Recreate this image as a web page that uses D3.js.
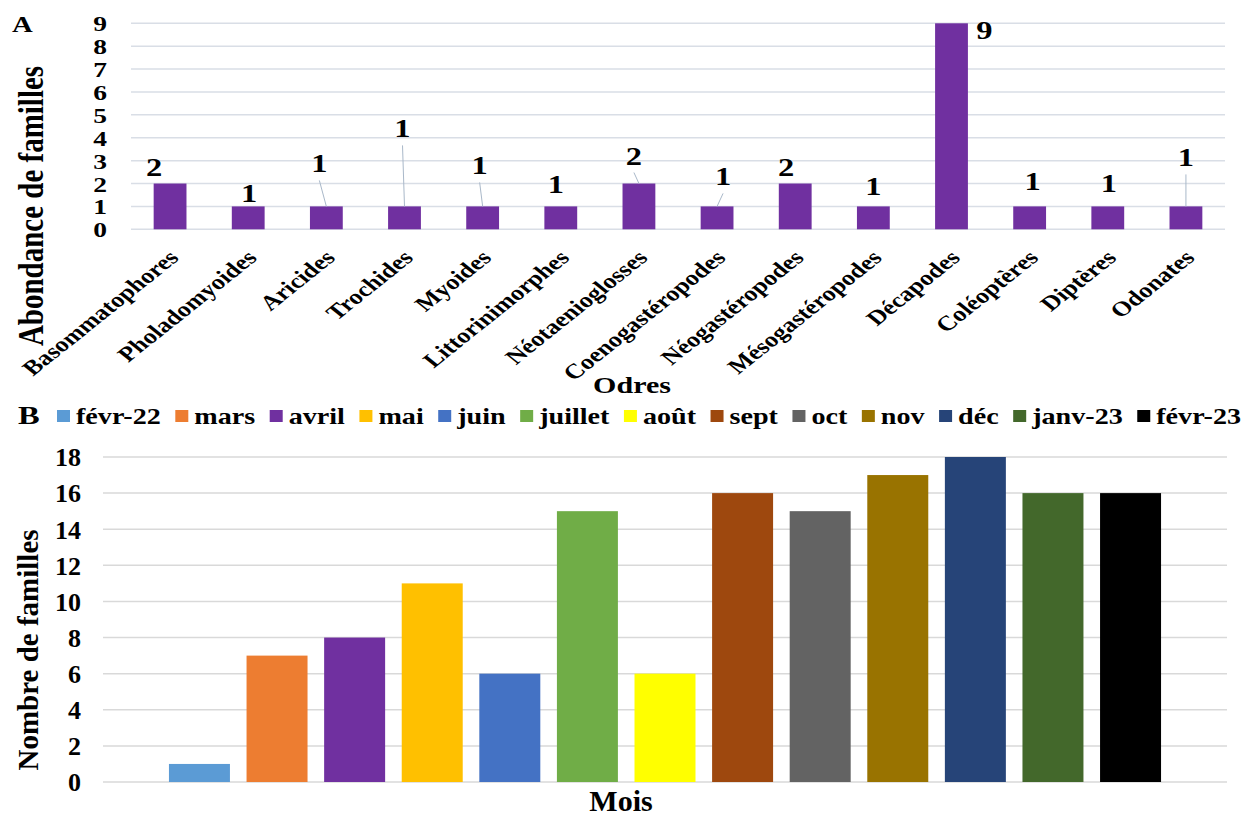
<!DOCTYPE html>
<html><head><meta charset="utf-8">
<script src="https://cdn.jsdelivr.net/npm/d3@7/dist/d3.min.js"></script>
<style>
html,body{margin:0;padding:0;background:#fff;}
svg text{font-family:"Liberation Serif","Times New Roman",serif;font-weight:bold;fill:#000;}
</style></head>
<body>
<svg id="chart" width="1256" height="819"></svg>
<script>
// ---------- DATA ----------
const ordres = ["Basommatophores","Pholadomyoides","Aricides","Trochides","Myoides","Littorinimorphes",
  "Néotaenioglosses","Coenogastéropodes","Néogastéropodes","Mésogastéropodes","Décapodes","Coléoptères","Diptères","Odonates"];
const abondance = [2,1,1,1,1,1,2,1,2,1,9,1,1,1];
const ticksA = [0,1,2,3,4,5,6,7,8,9];

const mois = ["févr-22","mars","avril","mai","juin","juillet","août","sept","oct","nov","déc","janv-23","févr-23"];
const familles = [1,7,8,11,6,15,6,16,15,17,18,16,16];
const couleurs = ["#5B9BD5","#ED7D31","#7030A0","#FFC000","#4472C4","#70AD47","#FFFF00","#9E480E","#636363","#997300","#264478","#43682B","#000000"];
const ticksB = [0,2,4,6,8,10,12,14,16,18];

// ---------- LAYOUT (label placement of panel A, relative to bar top) ----------
const labelLayout = [
  {dx:-16,dy:-8,leader:false},{dx:1,dy:-4,leader:false},{dx:-7,dy:-34,leader:true},{dx:-2,dy:-69,leader:true},
  {dx:-3,dy:-32,leader:true},{dx:-5,dy:-13,leader:false},{dx:-5,dy:-19,leader:true},{dx:6,dy:-21,leader:true},
  {dx:-9,dy:-8,leader:false},{dx:0,dy:-11,leader:false},{dx:33,dy:16,leader:false},{dx:3,dy:-16,leader:false},
  {dx:1,dy:-14,leader:false},{dx:0,dy:-40,leader:true}
];
const SX = 1.25; // horizontal stretch of the upper figure's text

const svg = d3.select("#chart");
function stext(parent, x, y, str, fs, anchor, rot, sx) {
  const s = (sx === undefined) ? SX : sx;
  return parent.append("text")
    .attr("transform", `translate(${x},${y}) scale(${s},1)` + (rot ? ` rotate(${rot})` : ""))
    .attr("text-anchor", anchor || "start").attr("font-size", fs).text(str);
}

// ================= PANEL A =================
const A = {left:131, right:1225, top:23.3, bottom:229.3};
const xA = d3.scaleBand().domain(ordres).range([A.left, A.right]).paddingInner(0.58).paddingOuter(0.29);
const yA = d3.scaleLinear().domain([0,9]).range([A.bottom, A.top]);

const gA = svg.append("g");
gA.selectAll("line.grid").data(ticksA).enter().append("line")
  .attr("x1", A.left).attr("x2", A.right)
  .attr("y1", d=>yA(d)).attr("y2", d=>yA(d))
  .attr("stroke", "#D9DEE6").attr("stroke-width", 1.5);
const axA = d3.axisLeft(yA).tickValues(ticksA).tickSize(0).tickPadding(0).tickFormat(d3.format("d"));
const axAg = gA.append("g").attr("transform", `translate(${107},0)`).call(axA);
axAg.select(".domain").remove();
axAg.selectAll("text").attr("font-size", 22).attr("dy", "0.34em").attr("transform", `scale(${SX},1)`);

gA.selectAll("rect.bar").data(abondance).enter().append("rect")
  .attr("x", (d,i)=>xA(ordres[i])).attr("width", xA.bandwidth())
  .attr("y", d=>yA(d)).attr("height", d=>yA(0)-yA(d))
  .attr("fill", "#7030A0");

abondance.forEach((v,i)=>{
  const cx = xA(ordres[i]) + xA.bandwidth()/2;
  const L = labelLayout[i];
  const lx = cx + L.dx, ly = yA(v) + L.dy;
  if (L.leader) {
    gA.append("line").attr("x1", lx).attr("y1", ly + 8).attr("x2", cx).attr("y2", yA(v))
      .attr("stroke", "#A9B8C9").attr("stroke-width", 1);
  }
  stext(gA, lx, ly, v, 26, "middle");
});

ordres.forEach(d=>{
  stext(gA, xA(d) + xA.bandwidth()/2 + 10, 259, d, 21, "end", -45);
});

stext(svg, 12, 32, "A", 23, "start");
stext(svg, 43, 206, "Abondance de familles", 29, "middle", -90);
stext(svg, 632, 393, "Odres", 24, "middle");

// ================= PANEL B =================
const B = {left:103, right:1227, top:457, bottom:782};
const xB = d3.scaleBand().domain(mois).range([B.left, B.right]).paddingInner(0.214).paddingOuter(0.85);
const yB = d3.scaleLinear().domain([0,18]).range([B.bottom, B.top]);
const gB = svg.append("g");

gB.selectAll("line.grid").data(ticksB).enter().append("line")
  .attr("x1", B.left).attr("x2", B.right)
  .attr("y1", d=>yB(d)).attr("y2", d=>yB(d))
  .attr("stroke", "#D9D9D9").attr("stroke-width", 1.5);

const axB = d3.axisLeft(yB).tickValues(ticksB).tickSize(0).tickPadding(0).tickFormat(d3.format("d"));
const axBg = gB.append("g").attr("transform", `translate(${81},0)`).call(axB);
axBg.select(".domain").remove();
axBg.selectAll("text").attr("font-size", 26).attr("dy", "0.34em");

gB.selectAll("rect.bar").data(familles).enter().append("rect")
  .attr("x", (d,i)=>xB(mois[i])).attr("width", xB.bandwidth())
  .attr("y", d=>yB(d)).attr("height", d=>yB(0)-yB(d))
  .attr("fill", (d,i)=>couleurs[i]);

// legend
stext(svg, 18, 424, "B", 26, "start");
let lxPos = 57;
mois.forEach((m,i)=>{
  svg.append("rect").attr("x", lxPos).attr("y", 410).attr("width", 13).attr("height", 12).attr("fill", couleurs[i]);
  const t = stext(svg, lxPos + 19, 424, m, 22.5, "start");
  const w = t.node().getComputedTextLength() * SX;
  lxPos = lxPos + 19 + w + 14.5;
});

svg.append("text").attr("transform", `translate(38,650) rotate(-90)`).attr("text-anchor", "middle")
  .attr("font-size", 29).text("Nombre de familles");
svg.append("text").attr("x", 621).attr("y", 811).attr("text-anchor", "middle").attr("font-size", 30).text("Mois");
</script>
</body></html>
